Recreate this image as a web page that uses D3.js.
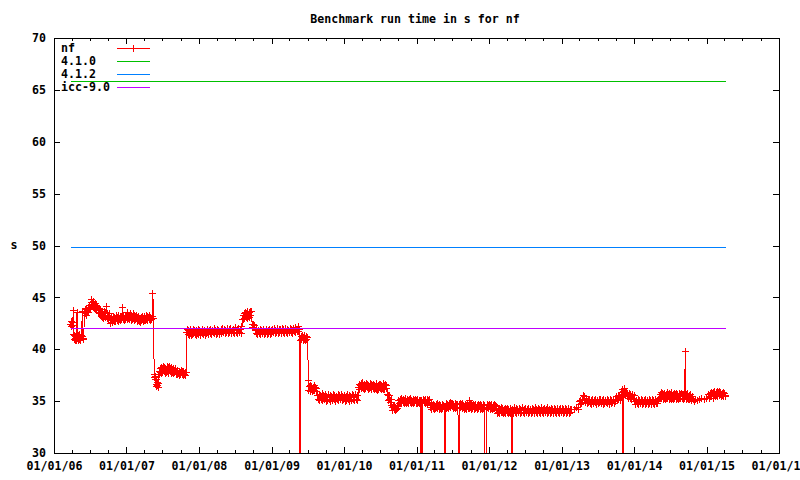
<!DOCTYPE html>
<html>
<head>
<meta charset="utf-8">
<script src="https://cdn.jsdelivr.net/npm/d3@7"></script>
<style>
body { margin: 0; background: #fff; }
svg text { font-family: "DejaVu Sans Mono", monospace; font-weight: bold; font-size: 11.6px; fill: #000; }
</style>
</head>
<body>
<svg id="chart" width="800" height="480"></svg>
<script>
// legend / series
const seriesNames = ["nf", "4.1.0", "4.1.2", "icc-9.0"];
const seriesColors = ["#ff0000", "#00c000", "#0080ff", "#c000ff"];
// constant reference timings (s) for 4.1.0, 4.1.2, icc-9.0
const refValues = [65.8, 49.8, 42.0];

const yTicks = [30, 35, 40, 45, 50, 55, 60, 65, 70];
const xTickDates = ["2006-01-01", "2007-01-01", "2008-01-01", "2009-01-01", "2010-01-01",
  "2011-01-01", "2012-01-01", "2013-01-01", "2014-01-01", "2015-01-01", "2016-01-01"];

// nf run times (0 = failed run, below the axis)
const nf2006 = [["2006-03-27",42.4],["2006-03-29",42.7],["2006-03-31",42.2],["2006-04-02",42.6],["2006-04-05",42.3],["2006-04-08",43.7],["2006-04-11",41.4],["2006-04-13",40.9],["2006-04-15",41.3],["2006-04-17",40.8],["2006-04-19",41.2],["2006-04-21",41.0],["2006-04-23",40.8],["2006-04-27",43.5],["2006-04-29",41.2],["2006-05-01",41.0],["2006-05-04",40.8],["2006-05-06",41.3],["2006-05-09",41.4],["2006-05-11",40.9],["2006-05-14",41.1],["2006-05-17",40.8],["2006-05-19",41.3],["2006-05-24",43.6],["2006-05-26",41.2],["2006-05-28",40.9],["2006-05-30",41.0],["2006-06-04",43.5],["2006-06-07",43.8],["2006-06-10",43.4],["2006-06-13",43.9],["2006-06-16",43.3],["2006-06-19",43.7],["2006-06-22",44.0],["2006-06-25",43.5],["2006-06-28",43.9],["2006-07-01",44.2],["2006-07-04",43.8],["2006-07-07",44.5],["2006-07-10",44.8],["2006-07-13",44.1],["2006-07-15",44.5],["2006-07-18",44.0],["2006-07-20",44.6],["2006-07-23",44.2],["2006-07-25",43.9],["2006-07-28",44.4],["2006-07-30",43.8],["2006-08-02",44.2],["2006-08-05",43.7],["2006-08-08",44.1],["2006-08-11",43.8],["2006-08-14",43.5],["2006-08-17",43.9],["2006-08-20",43.4],["2006-08-23",43.8],["2006-08-26",43.2],["2006-08-29",43.5],["2006-09-01",43.1],["2006-09-04",43.4],["2006-09-07",43.0],["2006-09-10",43.6],["2006-09-13",43.2],["2006-09-16",43.5],["2006-09-19",43.1],["2006-09-22",44.1],["2006-09-26",43.4],["2006-09-29",43.0],["2006-10-02",43.3],["2006-10-05",42.9],["2006-10-08",43.4],["2006-10-11",43.0],["2006-10-14",42.5],["2006-10-17",42.8],["2006-10-19",43.1],["2006-10-22",42.6],["2006-10-25",42.9],["2006-10-28",43.2],["2006-10-31",42.7],["2006-11-03",43.1],["2006-11-06",42.7],["2006-11-09",43.0],["2006-11-12",43.3],["2006-11-15",42.8],["2006-11-18",43.1],["2006-11-21",42.7],["2006-11-24",43.3],["2006-11-27",42.9],["2006-11-30",43.2],["2006-12-03",42.8],["2006-12-06",43.2],["2006-12-09",42.9],["2006-12-12",44.0],["2006-12-14",43.1],["2006-12-16",42.9],["2006-12-19",43.3],["2006-12-22",42.8],["2006-12-25",43.2],["2006-12-28",42.9]];
const nf2007 = [["2007-01-01",43.3],["2007-01-04",42.9],["2007-01-07",43.5],["2007-01-10",43.0],["2007-01-13",43.3],["2007-01-16",42.9],["2007-01-19",43.4],["2007-01-22",43.1],["2007-01-25",42.8],["2007-01-28",43.3],["2007-01-31",42.9],["2007-02-03",43.4],["2007-02-06",43.0],["2007-02-09",43.3],["2007-02-12",42.8],["2007-02-15",43.2],["2007-02-18",42.9],["2007-02-21",43.3],["2007-02-24",42.7],["2007-02-27",43.1],["2007-03-02",42.8],["2007-03-05",43.2],["2007-03-08",42.7],["2007-03-11",43.0],["2007-03-14",42.6],["2007-03-17",43.1],["2007-03-20",42.8],["2007-03-23",43.2],["2007-03-26",42.7],["2007-03-29",43.0],["2007-04-01",42.8],["2007-04-04",43.2],["2007-04-07",42.8],["2007-04-10",43.3],["2007-04-13",42.9],["2007-04-16",43.2],["2007-04-19",42.8],["2007-04-22",43.1],["2007-04-25",42.9],["2007-04-28",43.3],["2007-05-01",42.8],["2007-05-04",43.1],["2007-05-07",42.9],["2007-05-10",43.2],["2007-05-14",45.4],["2007-05-17",43.0],["2007-05-21",37.3],["2007-05-23",37.6],["2007-05-25",37.1],["2007-05-28",37.4],["2007-05-30",37.1],["2007-06-01",36.6],["2007-06-03",36.4],["2007-06-05",36.8],["2007-06-07",36.5],["2007-06-09",36.3],["2007-06-11",36.7],["2007-06-14",37.6],["2007-06-16",37.9],["2007-06-19",38.1],["2007-06-22",37.8],["2007-06-25",38.2],["2007-06-28",37.7],["2007-07-01",38.1],["2007-07-04",37.8],["2007-07-07",38.3],["2007-07-10",37.9],["2007-07-13",38.2],["2007-07-16",37.7],["2007-07-19",38.1],["2007-07-22",37.8],["2007-07-25",38.3],["2007-07-28",37.9],["2007-07-31",38.2],["2007-08-03",37.7],["2007-08-06",38.3],["2007-08-09",37.9],["2007-08-12",38.1],["2007-08-15",37.7],["2007-08-18",38.2],["2007-08-21",37.8],["2007-08-24",38.1],["2007-08-27",37.7],["2007-08-30",38.0],["2007-09-02",37.8],["2007-09-05",38.1],["2007-09-08",37.6],["2007-09-11",37.9],["2007-09-14",37.6],["2007-09-17",38.0],["2007-09-20",37.7],["2007-09-23",37.9],["2007-09-26",37.5],["2007-09-29",37.8],["2007-10-02",37.6],["2007-10-05",38.0],["2007-10-08",37.6],["2007-10-11",37.9],["2007-10-14",37.5],["2007-10-17",37.9],["2007-10-20",37.6],["2007-10-23",37.8],["2007-10-26",37.5],["2007-10-29",37.8],["2007-11-01",41.6],["2007-11-04",41.9],["2007-11-07",41.4],["2007-11-10",41.8],["2007-11-13",41.3],["2007-11-16",41.7],["2007-11-19",41.5],["2007-11-22",41.9],["2007-11-25",41.3],["2007-11-28",41.7],["2007-12-01",41.4],["2007-12-04",41.9],["2007-12-07",41.5],["2007-12-10",41.8],["2007-12-13",41.4],["2007-12-16",41.7],["2007-12-19",41.3],["2007-12-22",41.8],["2007-12-25",41.5],["2007-12-28",41.9]];
const nf2008 = [["2008-01-01",41.4],["2008-01-05",41.8],["2008-01-09",41.3],["2008-01-13",41.7],["2008-01-17",41.5],["2008-01-21",41.9],["2008-01-25",41.4],["2008-01-29",41.8],["2008-02-02",41.3],["2008-02-06",41.7],["2008-02-10",41.5],["2008-02-14",41.9],["2008-02-18",41.4],["2008-02-22",41.8],["2008-02-26",41.5],["2008-03-01",41.9],["2008-03-05",41.4],["2008-03-09",41.8],["2008-03-13",41.6],["2008-03-17",42.0],["2008-03-21",41.5],["2008-03-25",41.8],["2008-03-29",41.4],["2008-04-02",41.9],["2008-04-06",41.5],["2008-04-10",41.8],["2008-04-14",41.4],["2008-04-18",41.7],["2008-04-22",41.9],["2008-04-26",41.5],["2008-04-30",42.0],["2008-05-04",41.6],["2008-05-08",41.9],["2008-05-12",41.5],["2008-05-16",41.8],["2008-05-20",41.6],["2008-05-24",42.0],["2008-05-28",41.5],["2008-06-01",41.9],["2008-06-05",41.6],["2008-06-09",42.0],["2008-06-13",41.5],["2008-06-17",41.8],["2008-06-21",41.6],["2008-06-25",41.9],["2008-06-29",41.5],["2008-07-03",42.1],["2008-07-07",41.6],["2008-07-11",41.9],["2008-07-15",41.5],["2008-07-19",42.0],["2008-07-23",41.6],["2008-07-27",41.9],["2008-07-31",41.5],["2008-08-05",42.2],["2008-08-08",42.9],["2008-08-11",43.3],["2008-08-14",42.9],["2008-08-17",43.4],["2008-08-20",43.0],["2008-08-23",43.5],["2008-08-26",43.1],["2008-08-29",43.4],["2008-09-01",43.0],["2008-09-04",43.6],["2008-09-07",43.2],["2008-09-10",43.5],["2008-09-13",43.1],["2008-09-16",43.6],["2008-09-19",43.3],["2008-09-22",43.6],["2008-09-25",42.4],["2008-09-28",42.1],["2008-10-01",42.4],["2008-10-04",42.1],["2008-10-07",42.3],["2008-10-11",41.8],["2008-10-15",41.5],["2008-10-19",41.9],["2008-10-23",41.4],["2008-10-27",41.8],["2008-10-31",41.5],["2008-11-04",41.9],["2008-11-08",41.4],["2008-11-12",41.8],["2008-11-16",41.5],["2008-11-20",41.9],["2008-11-24",41.4],["2008-11-28",41.7],["2008-12-02",41.5],["2008-12-06",41.9],["2008-12-10",41.4],["2008-12-14",41.8],["2008-12-18",41.5],["2008-12-22",41.9],["2008-12-26",41.4],["2008-12-30",41.8]];
const nf2009 = [["2009-01-03",41.5],["2009-01-07",41.9],["2009-01-11",41.6],["2009-01-15",42.0],["2009-01-19",41.5],["2009-01-23",41.8],["2009-01-27",41.6],["2009-01-31",42.0],["2009-02-04",41.5],["2009-02-08",41.9],["2009-02-12",41.6],["2009-02-16",41.9],["2009-02-20",41.5],["2009-02-24",42.0],["2009-02-28",41.6],["2009-03-04",41.9],["2009-03-08",41.5],["2009-03-12",42.0],["2009-03-16",41.6],["2009-03-20",41.9],["2009-03-24",41.5],["2009-03-28",41.8],["2009-04-01",41.6],["2009-04-05",42.0],["2009-04-09",41.6],["2009-04-13",41.9],["2009-04-17",41.5],["2009-04-21",42.0],["2009-04-25",41.7],["2009-04-29",42.1],["2009-05-03",41.6],["2009-05-07",41.9],["2009-05-11",41.7],["2009-05-15",42.2],["2009-05-19",41.7],["2009-05-23",41.9],["2009-05-24",0],["2009-05-28",0],["2009-05-29",40.8],["2009-05-31",41.2],["2009-06-03",40.9],["2009-06-06",41.3],["2009-06-09",40.8],["2009-06-12",41.1],["2009-06-15",40.9],["2009-06-18",41.3],["2009-06-21",40.8],["2009-06-24",41.2],["2009-06-27",40.9],["2009-07-02",41.1],["2009-07-05",37.0],["2009-07-08",36.0],["2009-07-11",36.4],["2009-07-14",35.9],["2009-07-17",36.5],["2009-07-20",36.1],["2009-07-23",36.4],["2009-07-26",35.9],["2009-07-29",36.3],["2009-08-01",36.0],["2009-08-04",36.5],["2009-08-07",36.0],["2009-08-10",36.3],["2009-08-13",35.9],["2009-08-16",36.2],["2009-08-20",35.5],["2009-08-24",35.2],["2009-08-28",35.6],["2009-09-01",35.1],["2009-09-05",35.5],["2009-09-09",35.2],["2009-09-13",35.7],["2009-09-17",35.1],["2009-09-21",35.5],["2009-09-25",35.2],["2009-09-29",35.6],["2009-10-03",35.0],["2009-10-07",35.4],["2009-10-11",35.1],["2009-10-15",35.6],["2009-10-19",35.2],["2009-10-23",35.5],["2009-10-27",35.0],["2009-10-31",35.4],["2009-11-04",35.1],["2009-11-08",35.6],["2009-11-12",35.2],["2009-11-16",35.5],["2009-11-20",35.0],["2009-11-24",35.4],["2009-11-28",35.2],["2009-12-02",35.6],["2009-12-06",35.1],["2009-12-10",35.5],["2009-12-14",35.2],["2009-12-18",35.6],["2009-12-22",35.1],["2009-12-26",35.4],["2009-12-30",35.2]];
const nf2010 = [["2010-01-03",35.5],["2010-01-07",35.0],["2010-01-11",35.4],["2010-01-15",35.1],["2010-01-19",35.6],["2010-01-23",35.2],["2010-01-27",35.5],["2010-01-31",35.0],["2010-02-04",35.4],["2010-02-08",35.1],["2010-02-12",35.6],["2010-02-16",35.2],["2010-02-20",35.5],["2010-02-24",35.1],["2010-02-28",35.6],["2010-03-04",35.2],["2010-03-08",35.5],["2010-03-12",35.1],["2010-03-16",36.3],["2010-03-19",36.6],["2010-03-22",36.1],["2010-03-25",36.5],["2010-03-28",36.2],["2010-03-31",36.7],["2010-04-03",36.3],["2010-04-06",36.8],["2010-04-09",36.2],["2010-04-12",36.6],["2010-04-15",36.1],["2010-04-18",36.5],["2010-04-21",36.2],["2010-04-24",36.7],["2010-04-27",36.3],["2010-04-30",36.6],["2010-05-03",36.1],["2010-05-06",36.5],["2010-05-09",36.2],["2010-05-12",36.7],["2010-05-15",36.3],["2010-05-18",36.6],["2010-05-21",36.1],["2010-05-24",36.5],["2010-05-27",36.2],["2010-05-30",36.6],["2010-06-02",36.1],["2010-06-05",36.5],["2010-06-08",36.2],["2010-06-11",36.7],["2010-06-14",36.1],["2010-06-17",36.4],["2010-06-20",36.0],["2010-06-23",36.5],["2010-06-26",36.1],["2010-06-29",36.6],["2010-07-02",36.2],["2010-07-05",36.6],["2010-07-08",36.1],["2010-07-11",36.5],["2010-07-14",36.2],["2010-07-17",36.7],["2010-07-20",36.1],["2010-07-23",36.5],["2010-07-26",36.1],["2010-07-29",36.6],["2010-08-01",36.2],["2010-08-04",36.5],["2010-08-08",35.6],["2010-08-11",35.1],["2010-08-14",35.5],["2010-08-17",35.2],["2010-08-20",35.5],["2010-08-23",34.9],["2010-08-26",35.2],["2010-08-29",34.6],["2010-09-01",34.4],["2010-09-04",34.1],["2010-09-07",34.5],["2010-09-10",34.2],["2010-09-13",34.6],["2010-09-16",34.1],["2010-09-19",34.4],["2010-09-22",34.2],["2010-09-25",34.5],["2010-09-29",34.3],["2010-10-04",35.1],["2010-10-07",34.8],["2010-10-10",35.2],["2010-10-13",34.9],["2010-10-16",35.3],["2010-10-19",34.8],["2010-10-22",35.1],["2010-10-25",34.9],["2010-10-28",35.2],["2010-10-31",34.8],["2010-11-03",35.1],["2010-11-06",34.9],["2010-11-09",35.3],["2010-11-12",34.8],["2010-11-15",35.2],["2010-11-18",34.9],["2010-11-21",35.1],["2010-11-24",34.8],["2010-11-27",35.2],["2010-11-30",34.9],["2010-12-03",35.3],["2010-12-06",34.8],["2010-12-09",35.1],["2010-12-12",34.9],["2010-12-15",35.2],["2010-12-18",34.8],["2010-12-21",35.1],["2010-12-24",34.9],["2010-12-27",35.2],["2010-12-30",34.8]];
const nf2011 = [["2011-01-02",35.1],["2011-01-05",34.8],["2011-01-08",35.2],["2011-01-11",34.9],["2011-01-14",35.1],["2011-01-17",34.8],["2011-01-21",35.1],["2011-01-23",0],["2011-01-27",35.1],["2011-01-31",0],["2011-02-02",34.8],["2011-02-05",35.2],["2011-02-08",34.9],["2011-02-11",35.1],["2011-02-14",34.8],["2011-02-17",35.2],["2011-02-20",34.9],["2011-02-23",35.2],["2011-02-26",34.8],["2011-03-01",35.1],["2011-03-04",34.9],["2011-03-07",35.2],["2011-03-10",34.9],["2011-03-14",34.4],["2011-03-17",34.7],["2011-03-20",34.2],["2011-03-23",34.6],["2011-03-26",34.3],["2011-03-29",34.7],["2011-04-01",34.2],["2011-04-04",34.6],["2011-04-07",34.3],["2011-04-10",34.7],["2011-04-13",34.4],["2011-04-16",34.8],["2011-04-19",34.3],["2011-04-22",34.6],["2011-04-25",34.2],["2011-04-28",34.7],["2011-05-01",34.3],["2011-05-04",34.6],["2011-05-07",34.2],["2011-05-10",34.7],["2011-05-13",34.3],["2011-05-16",34.6],["2011-05-21",34.3],["2011-05-22",0],["2011-05-27",0],["2011-05-28",34.5],["2011-05-30",34.3],["2011-06-02",34.8],["2011-06-05",34.4],["2011-06-08",34.7],["2011-06-11",34.3],["2011-06-14",34.8],["2011-06-17",34.5],["2011-06-20",34.9],["2011-06-23",34.4],["2011-06-26",34.8],["2011-06-29",34.5],["2011-07-02",34.8],["2011-07-05",34.3],["2011-07-08",34.7],["2011-07-11",34.4],["2011-07-14",34.8],["2011-07-17",34.3],["2011-07-20",34.7],["2011-07-23",34.4],["2011-07-26",34.7],["2011-07-29",34.4],["2011-08-02",0],["2011-08-04",34.7],["2011-08-07",34.3],["2011-08-10",34.8],["2011-08-13",34.4],["2011-08-16",34.7],["2011-08-19",34.3],["2011-08-22",34.8],["2011-08-25",34.4],["2011-08-28",34.6],["2011-08-31",34.2],["2011-09-03",34.7],["2011-09-06",34.3],["2011-09-09",34.6],["2011-09-12",34.2],["2011-09-15",34.7],["2011-09-18",34.3],["2011-09-21",34.6],["2011-09-24",34.3],["2011-09-27",35.1],["2011-09-30",34.4],["2011-10-03",34.7],["2011-10-06",34.2],["2011-10-09",34.6],["2011-10-12",34.3],["2011-10-15",34.7],["2011-10-18",34.2],["2011-10-21",34.6],["2011-10-24",34.3],["2011-10-27",34.7],["2011-10-30",34.4],["2011-11-02",34.6],["2011-11-05",34.2],["2011-11-08",34.7],["2011-11-11",34.3],["2011-11-14",34.6],["2011-11-17",34.2],["2011-11-20",34.7],["2011-11-23",34.3],["2011-11-26",34.6],["2011-11-29",34.2],["2011-12-02",34.7],["2011-12-05",34.3],["2011-12-08",34.6],["2011-12-12",34.3],["2011-12-13",0],["2011-12-18",0],["2011-12-19",34.3],["2011-12-23",34.7],["2011-12-26",34.4],["2011-12-29",34.6]];
const nf2012 = [["2012-01-01",34.3],["2012-01-04",34.7],["2012-01-07",34.2],["2012-01-10",34.6],["2012-01-13",34.3],["2012-01-16",34.7],["2012-01-19",34.2],["2012-01-22",34.6],["2012-01-25",34.3],["2012-01-28",34.7],["2012-01-31",34.3],["2012-02-03",34.6],["2012-02-07",34.5],["2012-02-10",34.1],["2012-02-13",33.8],["2012-02-16",34.3],["2012-02-19",33.9],["2012-02-22",34.3],["2012-02-25",33.8],["2012-02-28",34.2],["2012-03-02",33.9],["2012-03-05",34.4],["2012-03-08",33.9],["2012-03-11",34.3],["2012-03-14",33.8],["2012-03-17",34.2],["2012-03-20",33.9],["2012-03-23",34.3],["2012-03-26",33.8],["2012-03-29",34.2],["2012-04-01",33.9],["2012-04-04",34.3],["2012-04-07",33.8],["2012-04-10",34.2],["2012-04-13",33.9],["2012-04-16",34.3],["2012-04-19",33.8],["2012-04-24",34.1],["2012-04-25",0],["2012-04-30",0],["2012-05-01",34.2],["2012-05-05",33.8],["2012-05-09",34.4],["2012-05-13",33.9],["2012-05-17",34.3],["2012-05-21",33.8],["2012-05-25",34.2],["2012-05-29",33.9],["2012-06-02",34.3],["2012-06-06",33.8],["2012-06-10",34.2],["2012-06-14",33.9],["2012-06-18",34.4],["2012-06-22",33.9],["2012-06-26",34.2],["2012-06-30",33.8],["2012-07-04",34.3],["2012-07-08",33.9],["2012-07-12",34.2],["2012-07-16",33.8],["2012-07-20",34.3],["2012-07-24",33.9],["2012-07-28",34.2],["2012-08-01",33.8],["2012-08-05",34.3],["2012-08-09",33.9],["2012-08-13",34.2],["2012-08-17",33.8],["2012-08-21",34.4],["2012-08-25",33.9],["2012-08-29",34.2],["2012-09-02",33.8],["2012-09-06",34.3],["2012-09-10",33.9],["2012-09-14",34.2],["2012-09-18",33.8],["2012-09-22",34.4],["2012-09-26",33.9],["2012-09-30",34.2],["2012-10-04",33.8],["2012-10-08",34.3],["2012-10-12",33.9],["2012-10-16",34.2],["2012-10-20",33.8],["2012-10-24",34.4],["2012-10-28",33.9],["2012-11-01",34.2],["2012-11-05",33.8],["2012-11-09",34.3],["2012-11-13",33.9],["2012-11-17",34.2],["2012-11-21",33.8],["2012-11-25",34.3],["2012-11-29",33.9],["2012-12-03",34.2],["2012-12-07",33.8],["2012-12-11",34.3],["2012-12-15",33.9],["2012-12-19",34.2],["2012-12-23",33.8],["2012-12-27",34.3],["2012-12-31",33.9]];
const nf2013 = [["2013-01-04",34.3],["2013-01-08",33.8],["2013-01-12",34.2],["2013-01-16",33.9],["2013-01-20",34.3],["2013-01-24",33.8],["2013-01-28",34.2],["2013-02-01",33.9],["2013-02-05",34.3],["2013-02-09",33.8],["2013-02-13",34.2],["2013-02-17",33.9],["2013-02-20",34.2],["2013-03-06",34.2],["2013-03-16",34.4],["2013-03-26",34.2],["2013-04-01",35.0],["2013-04-04",34.7],["2013-04-08",35.1],["2013-04-12",34.8],["2013-04-16",35.2],["2013-04-20",35.5],["2013-04-24",35.1],["2013-04-28",35.4],["2013-05-02",34.9],["2013-05-06",35.3],["2013-05-10",34.8],["2013-05-14",35.2],["2013-05-18",34.9],["2013-05-22",35.2],["2013-05-26",34.8],["2013-05-30",35.1],["2013-06-03",34.7],["2013-06-07",35.2],["2013-06-11",34.8],["2013-06-15",35.1],["2013-06-19",34.9],["2013-06-23",35.2],["2013-06-27",34.7],["2013-07-01",35.1],["2013-07-05",34.8],["2013-07-09",35.2],["2013-07-13",34.9],["2013-07-17",35.2],["2013-07-21",34.8],["2013-07-25",35.1],["2013-07-29",34.7],["2013-08-02",35.2],["2013-08-06",34.8],["2013-08-10",35.1],["2013-08-14",34.9],["2013-08-18",35.2],["2013-08-22",34.8],["2013-08-26",35.1],["2013-08-30",34.7],["2013-09-03",35.2],["2013-09-07",34.8],["2013-09-11",35.1],["2013-09-15",34.9],["2013-09-19",35.2],["2013-09-23",34.8],["2013-09-27",35.1],["2013-10-01",35.0],["2013-10-05",35.4],["2013-10-09",35.1],["2013-10-13",35.5],["2013-10-17",35.2],["2013-10-21",35.5],["2013-10-25",35.1],["2013-10-29",35.4],["2013-11-01",35.8],["2013-11-03",35.6],["2013-11-05",36.1],["2013-11-07",0],["2013-11-09",35.9],["2013-11-12",35.6],["2013-11-14",36.2],["2013-11-17",35.8],["2013-11-20",35.5],["2013-11-23",35.8],["2013-11-27",35.4],["2013-11-30",35.7],["2013-12-04",35.3],["2013-12-08",35.7],["2013-12-12",35.3],["2013-12-16",35.6],["2013-12-20",35.2],["2013-12-24",35.6],["2013-12-28",35.3]];
const nf2014 = [["2014-01-01",35.5],["2014-01-05",35.0],["2014-01-09",34.7],["2014-01-13",35.1],["2014-01-17",34.8],["2014-01-21",35.2],["2014-01-25",34.7],["2014-01-29",35.1],["2014-02-02",34.8],["2014-02-06",35.2],["2014-02-10",34.7],["2014-02-14",35.1],["2014-02-18",34.8],["2014-02-22",35.1],["2014-02-26",34.7],["2014-03-02",35.2],["2014-03-06",34.8],["2014-03-10",35.1],["2014-03-14",34.7],["2014-03-18",35.2],["2014-03-22",34.8],["2014-03-26",35.1],["2014-03-30",34.7],["2014-04-03",35.2],["2014-04-07",34.8],["2014-04-11",35.1],["2014-04-15",34.7],["2014-04-19",35.2],["2014-04-23",34.8],["2014-04-27",35.1],["2014-05-01",34.8],["2014-05-05",35.2],["2014-05-09",35.3],["2014-05-12",35.6],["2014-05-15",35.3],["2014-05-18",35.8],["2014-05-21",35.3],["2014-05-24",35.7],["2014-05-27",35.2],["2014-05-30",35.6],["2014-06-02",35.3],["2014-06-05",35.7],["2014-06-08",35.2],["2014-06-11",35.6],["2014-06-14",35.3],["2014-06-17",35.8],["2014-06-20",35.3],["2014-06-23",35.6],["2014-06-26",35.2],["2014-06-29",35.7],["2014-07-02",35.3],["2014-07-05",35.6],["2014-07-08",35.2],["2014-07-11",35.8],["2014-07-14",35.3],["2014-07-17",35.6],["2014-07-20",35.2],["2014-07-23",35.7],["2014-07-26",35.3],["2014-07-29",35.6],["2014-08-01",35.2],["2014-08-04",35.7],["2014-08-07",35.3],["2014-08-10",35.6],["2014-08-13",35.2],["2014-08-16",35.7],["2014-08-19",35.3],["2014-08-22",35.6],["2014-08-25",35.3],["2014-08-28",35.7],["2014-08-31",35.3],["2014-09-03",35.6],["2014-09-06",35.2],["2014-09-09",35.6],["2014-09-12",35.3],["2014-09-14",35.5],["2014-09-15",39.8],["2014-09-17",35.5],["2014-09-20",35.2],["2014-09-23",35.6],["2014-09-26",35.3],["2014-09-29",35.7],["2014-10-02",35.2],["2014-10-05",35.5],["2014-10-08",35.2],["2014-10-11",35.6],["2014-10-14",35.3],["2014-10-18",35.1],["2014-10-22",35.4],["2014-10-26",35.2],["2014-10-30",35.0],["2014-11-05",35.2],["2014-11-14",35.1],["2014-11-26",35.2],["2014-12-08",35.3],["2014-12-20",35.2]];
const nf2015 = [["2015-01-02",35.3],["2015-01-13",35.6],["2015-01-16",35.3],["2015-01-19",35.7],["2015-01-22",35.4],["2015-01-25",35.8],["2015-01-28",35.4],["2015-01-31",35.7],["2015-02-03",35.3],["2015-02-06",35.8],["2015-02-09",35.5],["2015-02-12",35.9],["2015-02-15",35.4],["2015-02-18",35.8],["2015-02-21",35.5],["2015-02-24",35.9],["2015-02-27",35.4],["2015-03-02",35.8],["2015-03-05",35.5],["2015-03-08",35.9],["2015-03-11",35.6],["2015-03-14",35.8],["2015-03-17",35.4],["2015-03-20",35.7],["2015-03-23",35.5],["2015-03-26",35.8],["2015-03-29",35.4],["2015-04-01",35.7],["2015-04-04",35.4],["2015-04-08",35.5]];

const parseDate = d3.timeParse("%Y-%m-%d");
const nf = [].concat(nf2006, nf2007, nf2008, nf2009, nf2010, nf2011, nf2012, nf2013, nf2014, nf2015)
    .map(d => ({ date: parseDate(d[0]), value: d[1] }));

const plotLeft = 54, plotRight = 779, plotTop = 38, plotBottom = 453;

const x = d3.scaleTime()
    .domain([parseDate(xTickDates[0]), parseDate(xTickDates[xTickDates.length - 1])])
    .range([plotLeft, plotRight]);
const y = d3.scaleLinear().domain([30, 70]).range([plotBottom, plotTop]);

const svg = d3.select("#chart");

svg.append("defs").append("clipPath").attr("id", "plotclip")
    .append("rect")
    .attr("x", plotLeft).attr("y", plotTop)
    .attr("width", plotRight - plotLeft).attr("height", plotBottom - plotTop);

// title and axis label
svg.append("text")
    .attr("x", 415).attr("y", 23)
    .attr("text-anchor", "middle")
    .text("Benchmark run time in s for nf");

svg.append("text")
    .attr("x", 14).attr("y", 249)
    .attr("text-anchor", "middle")
    .text("s");

// axes (ticks point inwards, mirrored like gnuplot)
const majorDates = xTickDates.map(parseDate);
const minorDates = d3.timeMonth.every(3).range(majorDates[0], majorDates[majorDates.length - 1])
    .filter(d => d.getMonth() !== 0);
const fmt = d3.timeFormat("%d/%m/%y");

function styleAxis(g) {
    g.select(".domain").remove();
    g.selectAll("line").attr("stroke", "#000").attr("shape-rendering", "crispEdges");
    g.selectAll("text").attr("font-family", null).attr("font-size", null).attr("fill", null);
}

svg.append("g").attr("transform", `translate(0,${plotBottom})`)
    .call(d3.axisBottom(x).tickValues(majorDates).tickSize(-6).tickPadding(9).tickFormat(fmt))
    .call(styleAxis);
svg.append("g").attr("transform", `translate(0,${plotBottom})`)
    .call(d3.axisBottom(x).tickValues(minorDates).tickSize(-3).tickFormat(""))
    .call(styleAxis);
svg.append("g").attr("transform", `translate(0,${plotTop})`)
    .call(d3.axisTop(x).tickValues(majorDates).tickSize(-6).tickFormat(""))
    .call(styleAxis);
svg.append("g").attr("transform", `translate(0,${plotTop})`)
    .call(d3.axisTop(x).tickValues(minorDates).tickSize(-3).tickFormat(""))
    .call(styleAxis);

svg.append("g").attr("transform", `translate(${plotLeft},0)`)
    .call(d3.axisLeft(y).tickValues(yTicks).tickSize(-6).tickPadding(8))
    .call(styleAxis);
svg.append("g").attr("transform", `translate(${plotRight},0)`)
    .call(d3.axisRight(y).tickValues(yTicks).tickSize(-6).tickFormat(""))
    .call(styleAxis);

svg.append("rect")
    .attr("x", plotLeft).attr("y", plotTop)
    .attr("width", plotRight - plotLeft).attr("height", plotBottom - plotTop)
    .attr("fill", "none").attr("stroke", "#000")
    .attr("shape-rendering", "crispEdges");

// plotted data
const plot = svg.append("g").attr("clip-path", "url(#plotclip)");

const line = d3.line().x(d => x(d.date)).y(d => y(d.value));

plot.append("path")
    .datum(nf)
    .attr("d", line)
    .attr("fill", "none")
    .attr("stroke", seriesColors[0])
    .attr("stroke-width", 1)
    .attr("shape-rendering", "crispEdges");

const plus = "M-3.5,0H3.5M0,-3.5V3.5";
plot.selectAll(".pt")
    .data(nf.filter(d => d.value >= 30))
    .enter().append("path")
    .attr("class", "pt")
    .attr("transform", d => `translate(${x(d.date)},${y(d.value)})`)
    .attr("d", plus)
    .attr("stroke", seriesColors[0])
    .attr("shape-rendering", "crispEdges");

const firstDate = nf[0].date, lastDate = nf[nf.length - 1].date;
refValues.forEach((v, i) => {
    plot.append("path")
        .datum([{ date: firstDate, value: v }, { date: lastDate, value: v }])
        .attr("d", line)
        .attr("fill", "none")
        .attr("stroke", seriesColors[i + 1])
        .attr("shape-rendering", "crispEdges");
});

// legend
const legend = svg.append("g");
seriesNames.forEach((name, i) => {
    const ly = 48 + i * 13;
    legend.append("text").attr("x", 61).attr("y", ly + 4).text(name);
    legend.append("line")
        .attr("x1", 117).attr("x2", 150).attr("y1", ly).attr("y2", ly)
        .attr("stroke", seriesColors[i])
        .attr("shape-rendering", "crispEdges");
    if (i === 0) {
        legend.append("path")
            .attr("transform", `translate(133.5,${ly})`)
            .attr("d", plus)
            .attr("stroke", seriesColors[0])
            .attr("shape-rendering", "crispEdges");
    }
});
</script>
</body>
</html>
